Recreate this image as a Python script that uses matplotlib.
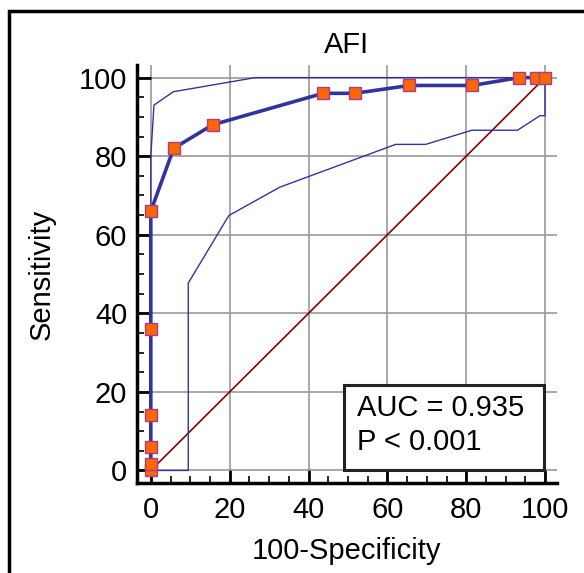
import matplotlib.pyplot as plt
from matplotlib.patches import Rectangle
from matplotlib.ticker import MultipleLocator

plt.rcParams['font.family'] = ['Liberation Sans', 'DejaVu Sans']

# ROC curve points (100-Specificity, Sensitivity)
roc_x = [0, 0, 0, 0, 0, 0, 5.8, 15.7, 43.7, 51.7, 65.6, 81.5, 93.5, 97.6, 100]
roc_y = [0, 1.7, 5.9, 14, 36, 66, 82, 88, 96, 96, 98, 98, 100, 100, 100]

# confidence bounds
upper_x = [0, 0, 0.8, 5.7, 26.5, 100]
upper_y = [0, 80, 93, 96.4, 100, 100]
lower_x = [0, 9.5, 9.5, 19.8, 32.7, 62.1, 69.7, 81.4, 93.0, 98.7, 100, 100]
lower_y = [0, 0, 47.7, 64.9, 72.1, 83.0, 83.0, 86.6, 86.6, 90.3, 90.3, 100]

auc_lines = ["AUC = 0.935", "P < 0.001"]

fig = plt.figure(figsize=(5.84, 5.73), dpi=100)
ax = fig.add_axes([0.2346, 0.157, 0.719, 0.7295])

blue = '#3333a0'
ax.plot([0, 100], [0, 100], color='#8b0000', lw=1.2, zorder=2)
ax.plot(upper_x, upper_y, color=blue, lw=1.0, zorder=3)
ax.plot(lower_x, lower_y, color=blue, lw=1.0, zorder=3)
ax.plot(roc_x, roc_y, color=blue, lw=2.6, marker='s', markersize=8,
        markerfacecolor='#ff6600', markeredgecolor='#a0408f', markeredgewidth=1.0, zorder=4)

ax.set_xlim(-3.5, 103)
ax.set_ylim(-3.2, 103.2)
ax.xaxis.set_major_locator(MultipleLocator(20))
ax.yaxis.set_major_locator(MultipleLocator(20))
ax.xaxis.set_minor_locator(MultipleLocator(5))
ax.yaxis.set_minor_locator(MultipleLocator(5))
ax.grid(True, which='major', color='#999999', lw=1.2, zorder=1)
ax.set_axisbelow(True)

for s in ['top', 'right']:
    ax.spines[s].set_visible(False)
for s in ['left', 'bottom']:
    ax.spines[s].set_linewidth(2.5)
ax.tick_params(which='major', direction='in', length=10, width=2, labelsize=21, pad=7)
ax.tick_params(axis='x', which='major', pad=9)
ax.tick_params(which='minor', direction='in', length=5, width=1.2)

ax.set_title('AFI', fontsize=21, pad=9)
ax.set_xlabel('100-Specificity', fontsize=21, labelpad=10)
ax.set_ylabel('Sensitivity', fontsize=21, labelpad=17)

# AUC box
ax.add_patch(Rectangle((49, 0), 50.8, 21.8, facecolor='white', edgecolor='#222222',
                       lw=2.2, zorder=6))
ax.text(52.3, 15.8, auc_lines[0], fontsize=21, va='center', ha='left', zorder=7)
ax.text(52.3, 7.2, auc_lines[1], fontsize=21, va='center', ha='left', zorder=7)

fig.patches.append(Rectangle((9 / 584, -0.1), 1.2, 1 - 11 / 573 + 0.1, transform=fig.transFigure,
                             fill=False, edgecolor='black', lw=2.5))

fig.savefig('out.png', dpi=100)
